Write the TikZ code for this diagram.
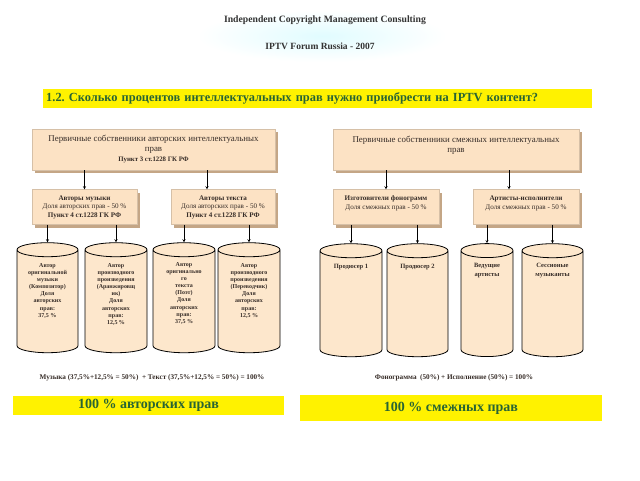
\documentclass[tikz,border=0pt]{standalone}
\usepackage{fontspec}
\setmainfont{Liberation Serif}
\usetikzlibrary{positioning, shapes.geometric, shadows, calc}
\frenchspacing

\definecolor{peach}{RGB}{252,226,196}
\definecolor{bevel}{RGB}{196,166,134}
\definecolor{drumfill}{RGB}{253,231,204}
\definecolor{qgreen}{RGB}{40,100,52}
\definecolor{inktxt}{RGB}{55,45,40}

\begin{document}
\begin{tikzpicture}[
        x=1pt, y=-1pt,
        box/.style={fill=peach, draw=peach!85!black, line width=0.3pt, inner sep=1pt, align=center, text=inktxt,
            drop shadow={shadow xshift=3pt, shadow yshift=-3pt, fill=bevel, opacity=1}},
        ownerbox/.style={box, minimum width=243pt, minimum height=41pt, font=\fontsize{8.9}{10}\selectfont},
        sharebox/.style={box, minimum width=105pt, minimum height=35pt, font=\fontsize{7.1}{8.5}\selectfont},
        drum/.style={cylinder, shape border rotate=90, aspect=2.1, draw, thick, fill=drumfill, minimum height=110pt},
        drumtext/.style={align=center, inner sep=0pt, font=\bfseries\fontsize{6}{7.1}\selectfont, text=inktxt},
        banner/.style={fill=yellow, inner sep=0pt, text=qgreen, font=\bfseries},
        sumtext/.style={font=\bfseries\fontsize{7.2}{8}\selectfont, text=inktxt},
        arrow/.style={->, >=stealth, thin},
    ]
    \fill[white] (0,0) rectangle (640,480);
    \useasboundingbox (0,0) rectangle (640,480);

    % Header
    \shade[inner color=blue!10!cyan!12, outer color=white] (322,36) ellipse [x radius=125pt, y radius=26pt];
    \node[font=\bfseries\fontsize{9.7}{11}\selectfont, text=black!80] (firm) at (325,20) {Independent Copyright Management Consulting};
    \node[font=\bfseries\fontsize{9.5}{11}\selectfont, text=black!80] (forum) at (320,46) {IPTV Forum Russia - 2007};

    % Question
    \node[banner, anchor=west, minimum height=19pt, text width=543pt, inner xsep=3pt, align=left,
        font=\bfseries\fontsize{12.4}{14}\selectfont] (question) at (43,98.5)
        {1.2. Сколько процентов интеллектуальных прав нужно приобрести на IPTV контент?};

    % Owners
    \node[ownerbox] (topL) at (153.5,149.5) {Первичные собственники авторских интеллектуальных\\прав\\{\bfseries\fontsize{6.8}{8}\selectfont Пункт 3 ст.1228 ГК РФ}};
    \node[ownerbox, minimum width=246pt] (topR) at (456,149.5) {Первичные собственники смежных интеллектуальных\\прав\\\mbox{}};

    \node[sharebox] (musL) at (84.5,207) {\bfseries Авторы музыки\\Доля авторских прав - 50 \%\\\bfseries Пункт 4 ст.1228 ГК РФ};
    \node[sharebox, minimum width=104pt] (txtL) at (223,207) {\bfseries Авторы текста\\Доля авторских прав - 50 \%\\\bfseries Пункт 4 ст.1228 ГК РФ};
    \node[sharebox, minimum width=106pt] (fonR) at (386,207) {\bfseries Изготовители фонограмм\\Доля смежных прав - 50 \%\\\mbox{}};
    \node[sharebox, minimum width=106pt] (artR) at (526,207) {\bfseries Артисты-исполнители\\Доля смежных прав - 50 \%\\\mbox{}};

    % Drums
    \node[drum, minimum width=61pt] (d1) at (47.5,303) {};
    \node[drum, minimum width=62pt] (d2) at (116,303) {};
    \node[drum, minimum width=62pt] (d3) at (184,303) {};
    \node[drum, minimum width=62pt] (d4) at (249,303) {};
    \node[drum, minimum width=62pt, minimum height=113pt] (d5) at (351,305.5) {};
    \node[drum, minimum width=61pt, minimum height=113pt] (d6) at (417.5,305.5) {};
    \node[drum, minimum width=52pt, minimum height=113pt] (d7) at (487,305.5) {};
    \node[drum, minimum width=61pt, minimum height=113pt] (d8) at (552.5,305.5) {};

    \node[drumtext, below=21pt of d1.north] (t1) {Автор\\оригинальной\\музыки\\(Композитор)\\Доля\\авторских\\прав:\\37,5 \%};
    \node[drumtext, below=21pt of d2.north] (t2) {Автор\\производного\\произведения\\(Аранжировщ\\ик)\\Доля\\авторских\\прав:\\12,5 \%};
    \node[drumtext, below=20pt of d3.north] (t3) {Автор\\оригинально\\го\\текста\\(Поэт)\\Доля\\авторских\\прав:\\37,5 \%};
    \node[drumtext, below=21pt of d4.north] (t4) {Автор\\производного\\произведения\\(Переводчик)\\Доля\\авторских\\прав:\\12,5 \%};
    \node[drumtext, font=\bfseries\fontsize{6.5}{9}\selectfont, below=21pt of d5.north] (t5) {Продюсер 1};
    \node[drumtext, font=\bfseries\fontsize{6.5}{9}\selectfont, below=21pt of d6.north] (t6) {Продюсер 2};
    \node[drumtext, font=\bfseries\fontsize{6.5}{9}\selectfont, below=20pt of d7.north] (t7) {Ведущие\\артисты};
    \node[drumtext, font=\bfseries\fontsize{6.5}{9}\selectfont, below=20pt of d8.north] (t8) {Сессионые\\музыканты};

    % Sums
    \node[sumtext] (sumL) at (152,378) {Музыка (37,5\%+12,5\% = 50\%)~~+ Текст (37,5\%+12,5\% = 50\%) = 100\%};
    \node[sumtext] (sumR) at (454,378) {Фонограмма~~(50\%) + Исполнение (50\%) = 100\%};

    \node[banner, minimum width=271pt, minimum height=19pt, font=\bfseries\fontsize{14}{16}\selectfont] (authL) at (148.5,405.5) {100 \% авторских прав};
    \node[banner, minimum width=302pt, minimum height=26pt, font=\bfseries\fontsize{14}{16}\selectfont] (relR) at (451,408) {100 \% смежных прав};

    % Arrows
    \coordinate (txtTip) at ([xshift=-16pt]txtL.north);
    \coordinate (artTip) at ([xshift=-17pt]artR.north);
    \draw[arrow] (musL.north |- topL.south) -- (musL.north);
    \draw[arrow] (txtTip |- topL.south) -- (txtTip);
    \draw[arrow] (fonR.north |- topR.south) -- (fonR.north);
    \draw[arrow] (artTip |- topR.south) -- (artTip);

    \draw[arrow] (d1.north |- musL.south) -- (d1.north);
    \draw[arrow] (d2.north |- musL.south) -- (d2.north);
    \draw[arrow] (d3.north |- txtL.south) -- (d3.north);
    \draw[arrow] (d4.north |- txtL.south) -- (d4.north);
    \draw[arrow] (d5.north |- fonR.south) -- (d5.north);
    \draw[arrow] (d6.north |- fonR.south) -- (d6.north);
    \draw[arrow] (d7.north |- artR.south) -- (d7.north);
    \draw[arrow] (d8.north |- artR.south) -- (d8.north);
\end{tikzpicture}
\end{document}
